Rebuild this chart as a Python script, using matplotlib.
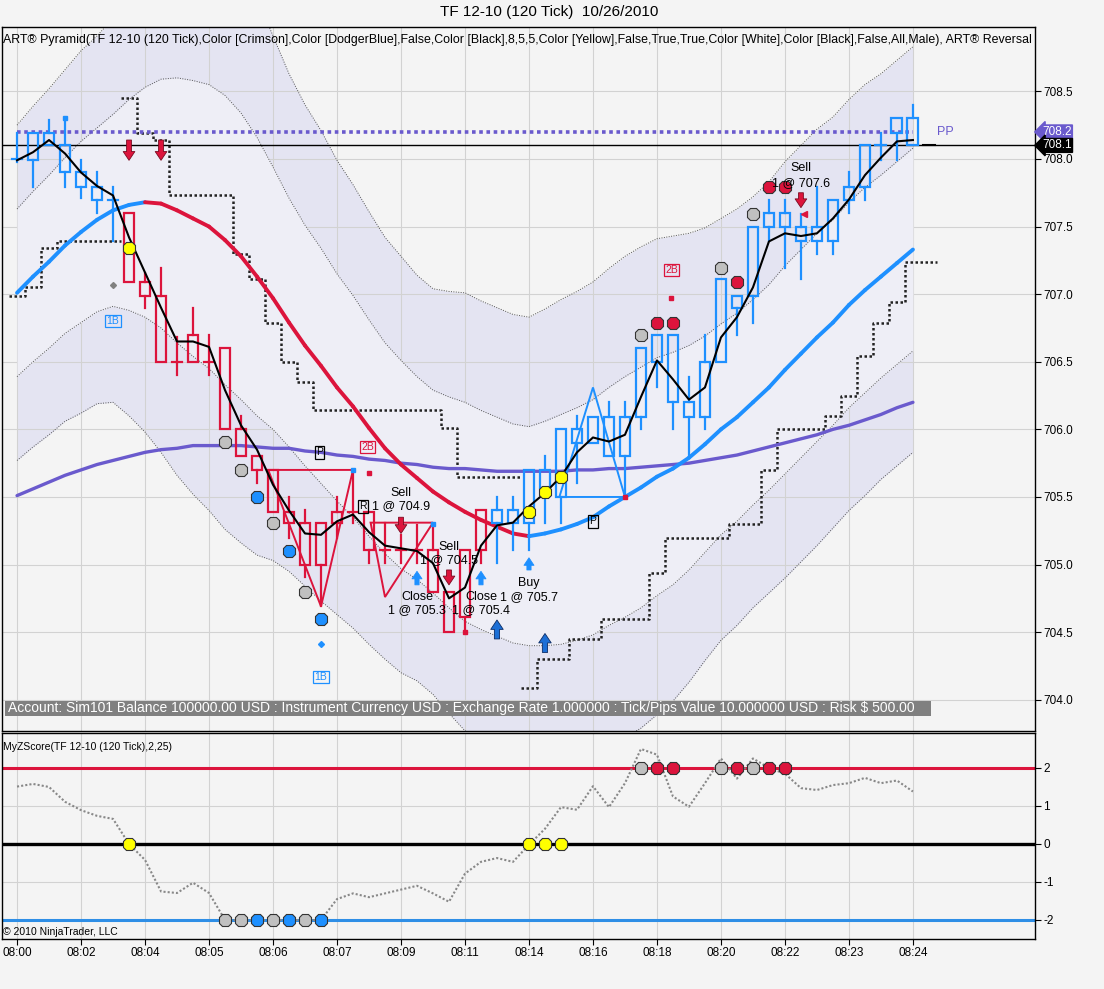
import numpy as np
import matplotlib
matplotlib.use('Agg')
import matplotlib.pyplot as plt
from matplotlib.patches import Rectangle, Polygon

plt.rcParams['font.family'] = ['Liberation Sans', 'DejaVu Sans']

# ---------------- data ----------------
time_labels = ['08:00', '08:02', '08:04', '08:05', '08:06', '08:07', '08:09', '08:11',
               '08:14', '08:16', '08:18', '08:20', '08:22', '08:23', '08:24']

opens = [707.99, 707.99, 708.10, 707.90, 707.79, 707.70, 707.70, 707.60, 707.09, 706.99,
         706.50, 706.70, 706.50, 706.60, 706.00, 705.80, 705.70, 705.39, 705.31, 705.31,
         705.39, 705.39, 705.39, 705.11, 705.11, 705.11, 705.11, 704.80, 705.11, 705.40,
         705.31, 705.31, 705.31, 705.57, 705.50, 705.90, 705.90, 705.80, 705.80, 706.09,
         706.50, 706.20, 706.09, 706.09, 706.50, 706.90, 706.99, 707.50, 707.50, 707.39,
         707.39, 707.39, 707.70, 707.79, 708.10, 708.19, 708.30]
highs = [708.19, 708.19, 708.29, 708.30, 707.99, 707.90, 707.79, 707.60, 707.16, 707.19,
         706.68, 706.90, 706.70, 706.60, 706.10, 705.80, 705.70, 705.50, 705.40, 705.31,
         705.50, 705.70, 705.39, 705.31, 705.22, 705.29, 705.29, 704.80, 705.11, 705.40,
         705.50, 705.50, 705.70, 705.80, 706.00, 706.10, 706.09, 706.20, 706.20, 706.60,
         706.70, 706.70, 706.39, 706.70, 707.11, 706.99, 707.50, 707.70, 707.70, 707.59,
         707.79, 707.70, 707.90, 708.10, 708.19, 708.30, 708.40]
lows = [707.98, 707.79, 708.10, 707.79, 707.71, 707.60, 707.39, 707.09, 706.90, 706.50,
        706.40, 706.50, 706.40, 706.00, 705.80, 705.60, 705.39, 705.20, 704.91, 704.69,
        705.20, 705.31, 705.01, 705.01, 705.01, 705.01, 704.80, 704.50, 704.50, 705.01,
        705.01, 705.11, 705.11, 705.31, 705.31, 705.60, 705.90, 705.80, 705.50, 706.00,
        706.31, 706.00, 705.80, 706.00, 706.50, 706.70, 706.79, 707.39, 707.19, 707.11,
        707.30, 707.30, 707.60, 707.70, 707.99, 707.99, 708.10]
closes = [708.00, 708.19, 708.19, 708.10, 707.90, 707.79, 707.70, 707.09, 706.99, 706.50,
          706.50, 706.50, 706.50, 706.00, 705.80, 705.70, 705.39, 705.31, 705.00, 705.00,
          705.31, 705.39, 705.11, 705.11, 705.11, 705.11, 704.80, 704.50, 704.61, 705.11,
          705.40, 705.40, 705.70, 705.70, 706.00, 706.00, 706.09, 706.09, 706.09, 706.60,
          706.70, 706.70, 706.20, 706.50, 707.11, 706.99, 707.50, 707.60, 707.60, 707.50,
          707.50, 707.70, 707.79, 708.10, 708.10, 708.30, 708.10]
# ART Pyramid trend per bar: u = DodgerBlue, d = Crimson
trend = list('u' * 7 + 'd' * 23 + 'u' * 27)

fast_line = [707.99, 708.05, 708.14, 708.04, 707.90, 707.80, 707.73, 707.42, 707.16, 706.90,
             706.65, 706.65, 706.61, 706.29, 706.03, 705.85, 705.59, 705.40, 705.23, 705.22,
             705.32, 705.37, 705.24, 705.14, 705.12, 705.10, 705.01, 704.75, 704.83, 705.14,
             705.29, 705.31, 705.43, 705.53, 705.65, 705.83, 705.94, 705.91, 705.96, 706.24,
             706.51, 706.37, 706.22, 706.31, 706.68, 706.83, 707.05, 707.39, 707.45, 707.43,
             707.45, 707.56, 707.70, 707.88, 708.01, 708.13, 708.14]
slow_line = [707.01, 707.13, 707.24, 707.36, 707.46, 707.55, 707.62, 707.66, 707.68, 707.67,
             707.62, 707.56, 707.50, 707.40, 707.28, 707.13, 706.97, 706.79, 706.62, 706.47,
             706.31, 706.17, 706.01, 705.86, 705.74, 705.64, 705.54, 705.46, 705.39, 705.33,
             705.28, 705.23, 705.21, 705.23, 705.26, 705.30, 705.35, 705.43, 705.50, 705.57,
             705.65, 705.71, 705.79, 705.89, 706.00, 706.09, 706.20, 706.31, 706.44, 706.56,
             706.68, 706.79, 706.92, 707.03, 707.13, 707.23, 707.33]
trend_line = [705.51, 705.56, 705.61, 705.66, 705.70, 705.74, 705.77, 705.80, 705.83, 705.85,
              705.86, 705.88, 705.88, 705.88, 705.88, 705.87, 705.86, 705.86, 705.84, 705.83,
              705.81, 705.80, 705.78, 705.77, 705.75, 705.74, 705.72, 705.71, 705.71, 705.70,
              705.69, 705.69, 705.69, 705.69, 705.69, 705.70, 705.70, 705.71, 705.71, 705.72,
              705.73, 705.74, 705.75, 705.77, 705.79, 705.81, 705.84, 705.87, 705.90, 705.93,
              705.96, 706.00, 706.03, 706.07, 706.11, 706.16, 706.20]
band_width = [0.62, 0.63, 0.64, 0.65, 0.67, 0.68, 0.71, 0.78, 0.85, 0.92,
              0.98, 1.02, 1.05, 1.07, 1.06, 1.03, 0.97, 0.92, 0.89, 0.87,
              0.84, 0.82, 0.80, 0.78, 0.77, 0.75, 0.75, 0.78, 0.81, 0.81,
              0.81, 0.81, 0.81, 0.83, 0.85, 0.86, 0.87, 0.88, 0.89, 0.89,
              0.88, 0.86, 0.83, 0.80, 0.78, 0.77, 0.76, 0.76, 0.77, 0.77,
              0.77, 0.76, 0.76, 0.76, 0.75, 0.75, 0.75]

# reversal stop, three legs (long, short, long)
stop_start = [0, 7, 32]
stop_legs = [
    [706.99, 707.05, 707.34, 707.39, 707.39, 707.39, 707.39],
    [708.45, 708.19, 708.14, 707.73, 707.73, 707.73, 707.73, 707.30, 707.11, 706.79,
     706.50, 706.35, 706.14, 706.14, 706.14, 706.14, 706.14, 706.14, 706.14, 706.14,
     706.01, 705.65, 705.65, 705.65, 705.65],
    [704.09, 704.30, 704.30, 704.45, 704.45, 704.60, 704.60, 704.60, 704.94, 705.20,
     705.20, 705.20, 705.20, 705.30, 705.30, 705.70, 706.00, 706.00, 706.00, 706.10,
     706.25, 706.54, 706.79, 706.94, 707.24],
]
pp_level = 708.2

zscore = [1.51, 1.58, 1.50, 1.11, 0.89, 0.74, 0.66, 0.00, -0.42, -1.25,
          -1.29, -1.02, -1.29, -2.00, -2.00, -2.00, -2.00, -2.00, -2.00, -2.00,
          -1.45, -1.30, -1.40, -1.30, -1.20, -1.10, -1.30, -1.52, -0.78, -0.47,
          -0.37, -0.47, -0.02, 0.40, 0.97, 0.90, 1.52, 0.97, 1.60, 2.50,
          2.35, 1.25, 0.98, 1.60, 2.25, 1.72, 2.25, 2.00, 1.85, 1.47,
          1.42, 1.55, 1.60, 1.74, 1.60, 1.67, 1.38]

dot_bars = [7, 13, 14, 15, 16, 17, 18, 19, 32, 33, 34, 39, 40, 41, 44, 45, 46, 47, 48]
dot_kind = ['y', 'g', 'g', 'b', 'g', 'b', 'g', 'b', 'y', 'y', 'y', 'g', 'r', 'r', 'g', 'r', 'g', 'r', 'r']
dot_price = [707.34, 705.91, 705.70, 705.50, 705.31, 705.10, 704.80, 704.60, 705.39, 705.54,
             705.65, 706.70, 706.79, 706.79, 707.19, 707.09, 707.59, 707.79, 707.79]
dot_zlevel = [0, -2, -2, -2, -2, -2, -2, -2, 0, 0, 0, 2, 2, 2, 2, 2, 2, 2, 2]

sell_bars = [7, 9, 24, 27, 49]
sell_tail = [708.14, 708.14, 705.35, 704.96, 707.75]
sell_tip = [707.99, 707.99, 705.23, 704.85, 707.64]
buy_bars = [25, 29, 32]
buy_tail = [704.85, 704.85, 704.96]
buy_tip = [704.95, 704.95, 705.05]
entry_bars = [30, 33]
entry_tail = [704.45, 704.35]
entry_tip = [704.59, 704.49]

order_bars = [24, 24, 27, 27, 25, 25, 29, 29, 32, 32, 49, 49]
order_price = [705.53, 705.43, 705.13, 705.03, 704.76, 704.66, 704.76, 704.66, 704.86, 704.76,
               707.93, 707.82]
order_text = ['Sell', '1 @ 704.9', 'Sell', '1 @ 704.5', 'Close', '1 @ 705.3', 'Close',
              '1 @ 705.4', 'Buy', '1 @ 705.7', 'Sell', '1 @ 707.6']

tag_text = ['1B', '1B', '2B', '2B', 'P', 'P', 'R']
tag_bar = [6, 19, 21.9, 40.9, 18.9, 36, 21.6]
tag_price = [706.80, 704.17, 705.87, 707.18, 705.83, 705.32, 705.43]
tag_kind = ['b', 'b', 'r', 'r', 'k', 'k', 'k']

# pattern triangles (bar, price) vertices
tri_red_1 = ([15.7, 21, 19], [705.70, 705.70, 704.69])
tri_red_2 = ([22.1, 26, 23], [705.31, 705.31, 704.76])
tri_blue = ([33.9, 38, 36], [705.50, 705.50, 706.31])

small_sq_bar = [22, 40.9, 28, 38]
small_sq_price = [705.68, 706.97, 704.50, 705.50]
blue_sq_bar = [3, 21, 26]
blue_sq_price = [708.30, 705.70, 705.30]

account_text = ('Account: Sim101 Balance 100000.00 USD : Instrument Currency USD : '
                'Exchange Rate 1.000000 : Tick/Pips Value 10.000000 USD : Risk $ 500.00')
legend_text = ('ART\u00ae Pyramid(TF 12-10 (120 Tick),Color [Crimson],Color [DodgerBlue],False,'
               'Color [Black],8,5,5,Color [Yellow],False,True,True,Color [White],Color [Black],'
               'False,All,Male), ART\u00ae Reversal')

# ---------------- drawing ----------------
UP = '#1E90FF'
DN = '#DC143C'
PURPLE = '#6A5ACD'
BG = '#F4F4F4'
kind_col = {'y': '#FFFF00', 'g': '#C0C0C0', 'b': UP, 'r': DN, 'k': 'black'}

n = len(closes)
x = np.arange(n)
ma = np.array(slow_line)
w = np.array(band_width)

fig = plt.figure(figsize=(11.04, 9.89), dpi=100, facecolor=BG)
ax = fig.add_axes([2 / 1104, 1 - 731 / 989, 1033 / 1104, 704 / 989], facecolor=BG)
ax2 = fig.add_axes([2 / 1104, 1 - 939 / 989, 1033 / 1104, 206 / 989], facecolor=BG)

x_lo, x_hi = -0.94, 63.63
for a in (ax, ax2):
    a.set_xlim(x_lo, x_hi)
    a.set_xticks(range(0, n, 4))
    a.grid(True, color='#D2D2D2', lw=0.8)
    a.set_axisbelow(True)
    a.yaxis.tick_right()
    a.tick_params(axis='y', direction='out', length=4, labelsize=8.5, pad=2)
    for s in a.spines.values():
        s.set_color('black')
        s.set_linewidth(1)

ax.set_ylim(703.769, 708.976)
ax.set_yticks(np.arange(704.0, 708.51, 0.5))
ax.set_yticklabels(['%.1f' % v for v in np.arange(704.0, 708.51, 0.5)])
ax.tick_params(axis='x', bottom=False, labelbottom=False)

# regression bands
ax.fill_between(x, ma + 2 * w, ma - 2 * w, color='#E4E4F2', lw=0, zorder=0.5)
ax.fill_between(x, ma + w, ma - w, color='#EEEEF6', lw=0, zorder=0.6)
for k in (-2, -1, 1, 2):
    ax.plot(x, ma + k * w, color='#555555', lw=0.7, ls=(0, (1, 1.5)), zorder=1)

# reversal stop
for st, leg in zip(stop_start, stop_legs):
    xs, ys = [], []
    for k, v in enumerate(leg):
        xs += [st + k - 0.5, st + k + 0.5]
        ys += [v, v]
    if st == stop_start[-1]:
        xs[-1] += 1.0
    ax.plot(xs, ys, color='#222222', lw=1.8, ls=(0, (1, 1)), zorder=2)

# trend line, PP level, last price
ax.plot(x, trend_line, color=PURPLE, lw=2.4, zorder=3, solid_capstyle='round')
ax.plot([0, n - 1], [pp_level, pp_level], color=PURPLE, lw=2.6, ls=(0, (1, 1)), zorder=3)
ax.axhline(closes[-1], color='black', lw=1, zorder=3)
ax.plot([n - 0.4, n + 0.4], [closes[-1], closes[-1]], color='black', lw=1.5, zorder=3)
ax.text(n + 1, pp_level, 'PP', color=PURPLE, fontsize=9, va='center', ha='center')

# slow line coloured by slope
for k in range(n - 1):
    c = UP if ma[k + 1] >= ma[k] else DN
    ax.plot(x[k:k + 2], ma[k:k + 2], color=c, lw=2.8, zorder=4, solid_capstyle='round')

# pattern triangles
for (tx, ty), c in ((tri_red_1, DN), (tri_red_2, DN), (tri_blue, UP)):
    ax.add_patch(Polygon(list(zip(tx, ty)), closed=True, fill=False, ec=c, lw=1.4, zorder=5))

# candles
half = 0.34
for i in range(n):
    c = UP if trend[i] == 'u' else DN
    top, bot = max(opens[i], closes[i]), min(opens[i], closes[i])
    if highs[i] > top:
        ax.plot([i, i], [top, highs[i]], color=c, lw=1.6, zorder=6)
    if lows[i] < bot:
        ax.plot([i, i], [lows[i], bot], color=c, lw=1.6, zorder=6)
    if top - bot < 0.015:
        ax.plot([i - half, i + half], [top, top], color=c, lw=1.6, zorder=6)
    else:
        ax.add_patch(Rectangle((i - half, bot), 2 * half, top - bot, fill=False,
                               ec=c, lw=1.6, zorder=6))

ax.plot(x, fast_line, color='black', lw=1.5, zorder=7)

# signal dots
for b, kd, p in zip(dot_bars, dot_kind, dot_price):
    ax.plot(b, p, marker='8', ms=10, mfc=kind_col[kd], mec='#333333', mew=0.8, zorder=8)


# arrows
def arrow(a, xb, tail, tip, fc, ec, scale):
    a.annotate('', xy=(xb, tip), xytext=(xb, tail),
               arrowprops=dict(arrowstyle='simple,head_width=0.6,head_length=0.45,tail_width=0.25',
                               fc=fc, ec=ec, lw=0.6, shrinkA=0, shrinkB=0,
                               mutation_scale=scale), zorder=9)


for b, t0, t1 in zip(sell_bars, sell_tail, sell_tip):
    arrow(ax, b, t0, t1, DN, '#7a0a20', 14)
for b, t0, t1 in zip(buy_bars, buy_tail, buy_tip):
    arrow(ax, b, t0, t1, UP, UP, 12)
for b, t0, t1 in zip(entry_bars, entry_tail, entry_tip):
    arrow(ax, b, t0, t1, '#1C6FD6', '#0b2c66', 15)

# order labels
for b, p, s in zip(order_bars, order_price, order_text):
    ax.text(b, p, s, fontsize=9, ha='center', va='center', color='black', zorder=10)

# pattern tags
for s, b, p, kd in zip(tag_text, tag_bar, tag_price, tag_kind):
    c = kind_col[kd]
    ax.text(b, p, s, fontsize=7.5, color=c, ha='center', va='center', zorder=10,
            bbox=dict(boxstyle='square,pad=0.12', fc='none', ec=c, lw=0.9))

ax.plot(small_sq_bar, small_sq_price, 's', color=DN, ms=3.5, zorder=9)
ax.plot(blue_sq_bar, blue_sq_price, 's', color=UP, ms=3.5, zorder=9)
ax.plot([6], [707.07], 'D', color='#808080', ms=3, zorder=9)
ax.plot([19], [704.41], 'D', color=UP, ms=3, zorder=9)
ax.plot([49.2], [707.59], '<', color=DN, ms=4, zorder=9)

# account strip
ax.add_patch(Rectangle((-0.75, 703.880), 57.85, 0.111, fc='#808080', ec='none', zorder=11))
ax.text(-0.56, 703.936, account_text, color='white', fontsize=10.0, va='center', ha='left',
        zorder=12)

# right side price tags
for val, col in ((pp_level, PURPLE), (closes[-1], 'black')):
    ax.annotate('%.1f' % val, xy=(1.0, val), xycoords=('axes fraction', 'data'),
                xytext=(5, 0), textcoords='offset points', color='white', fontsize=8.5,
                va='center', ha='left', annotation_clip=False, zorder=12,
                bbox=dict(boxstyle='larrow,pad=0.08', fc=col, ec=col))

# ---------------- z-score panel ----------------
ax2.set_ylim(-2.5, 2.92)
ax2.set_yticks([-2, -1, 0, 1, 2])
ax2.set_yticklabels(['-2', '-1', '0', '1', '2'])
ax2.set_xticklabels(time_labels)
ax2.tick_params(axis='x', direction='out', length=4, labelsize=8.5, pad=2)
ax2.axhline(2, color=DN, lw=2.2, zorder=2)
ax2.axhline(0, color='black', lw=2.4, zorder=2)
ax2.axhline(-2, color='#2E8EE6', lw=2.2, zorder=2)
ax2.plot(x, zscore, color='#888888', lw=1.5, ls=(0, (1, 1)), zorder=3)
for b, kd, lv in zip(dot_bars, dot_kind, dot_zlevel):
    ax2.plot(b, lv, marker='8', ms=10, mfc=kind_col[kd], mec='#333333', mew=0.8, zorder=4)

# ---------------- texts ----------------
fig.text(0.497, 1 - 12 / 989, 'TF 12-10 (120 Tick)  10/26/2010', ha='center', va='center',
         fontsize=11)
fig.text(3 / 1104, 1 - 40 / 989, legend_text, fontsize=8.9, va='center', ha='left')
fig.text(3 / 1104, 1 - 747 / 989, 'MyZScore(TF 12-10 (120 Tick),2,25)', fontsize=7.5,
         va='center', ha='left')
fig.text(3 / 1104, 1 - 932 / 989, '\u00a9 2010 NinjaTrader, LLC', fontsize=7.5,
         va='center', ha='left')

fig.savefig('out.png', dpi=100, facecolor=BG)
